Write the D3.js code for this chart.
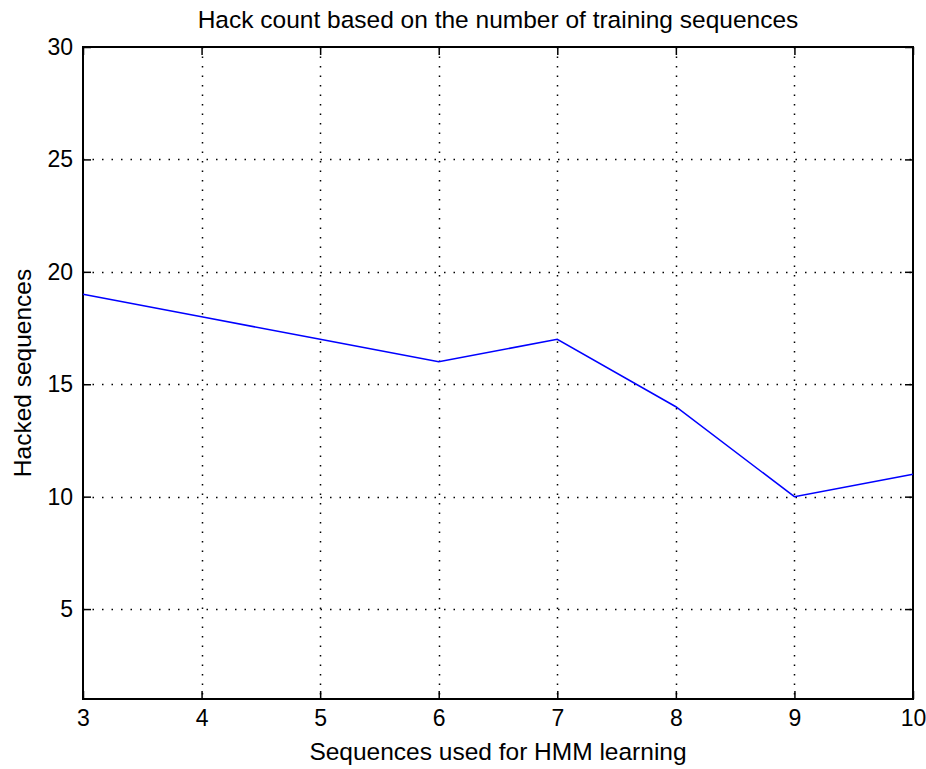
<!DOCTYPE html>
<html>
<head>
<meta charset="utf-8">
<script src="https://cdn.jsdelivr.net/npm/d3@7"></script>
<style>
  html, body { margin: 0; padding: 0; background: #fff; }
  svg { display: block; }
  text { font-family: "Liberation Sans", Arial, sans-serif; fill: #000; }
</style>
</head>
<body>
<svg id="chart" width="926" height="769"></svg>
<script>
const xValues = [3, 4, 5, 6, 7, 8, 9, 10];
const hackedValues = [19, 18, 17, 16, 17, 14, 10, 11];
const xTicks = [3, 4, 5, 6, 7, 8, 9, 10];
const yTicks = [5, 10, 15, 20, 25, 30];
const titleText = "Hack count based on the number of training sequences";
const xLabelText = "Sequences used for HMM learning";
const yLabelText = "Hacked sequences";

const W = 926, H = 769;
const margin = { left: 83, right: 13, top: 47, bottom: 70 };
const svg = d3.select("#chart");
const x = d3.scaleLinear().domain([3, 10]).range([margin.left, W - margin.right]);
const y = d3.scaleLinear().domain([1, 30]).range([H - margin.bottom, margin.top]);
const x0 = margin.left, x1 = W - margin.right, y0 = margin.top, y1 = H - margin.bottom;
const fs = 23;

// grid
const grid = svg.append("g");
grid.selectAll(".gx").data(xTicks.filter(d => d > 3 && d < 10)).enter().append("line")
  .attr("x1", d => Math.round(x(d)) + 0.5).attr("x2", d => Math.round(x(d)) + 0.5)
  .attr("y1", y0).attr("y2", y1)
  .attr("stroke", "#000").attr("stroke-width", 1.5).attr("stroke-dasharray", "1.5,8");
grid.selectAll(".gy").data(yTicks.filter(d => d < 30)).enter().append("line")
  .attr("y1", d => Math.round(y(d)) + 0.5).attr("y2", d => Math.round(y(d)) + 0.5)
  .attr("x1", x0).attr("x2", x1)
  .attr("stroke", "#000").attr("stroke-width", 1.5).attr("stroke-dasharray", "1.5,8");

// axes with inner ticks
const tk = 8;
const axB = svg.append("g").attr("transform", `translate(0,${y1})`)
  .call(d3.axisBottom(x).tickValues(xTicks).tickFormat(d3.format("d")).tickSizeInner(-tk).tickSizeOuter(0).tickPadding(11));
const axT = svg.append("g").attr("transform", `translate(0,${y0})`)
  .call(d3.axisTop(x).tickValues(xTicks).tickFormat("").tickSizeInner(-tk).tickSizeOuter(0));
const axL = svg.append("g").attr("transform", `translate(${x0},0)`)
  .call(d3.axisLeft(y).tickValues(yTicks).tickFormat(d3.format("d")).tickSizeInner(-tk).tickSizeOuter(0).tickPadding(10));
const axR = svg.append("g").attr("transform", `translate(${x1},0)`)
  .call(d3.axisRight(y).tickValues(yTicks).tickFormat("").tickSizeInner(-tk).tickSizeOuter(0));
[axB, axT, axL, axR].forEach(a => {
  a.selectAll(".domain").remove();
  a.selectAll(".tick line").attr("stroke", "#000").attr("stroke-width", 1.5);
  a.selectAll("text").style("font-size", fs + "px").attr("fill", "#000");
});

// box
svg.append("rect").attr("x", x0).attr("y", y0).attr("width", x1 - x0).attr("height", y1 - y0)
  .attr("fill", "none").attr("stroke", "#000").attr("stroke-width", 2);

// line
const line = d3.line().x((d, i) => x(xValues[i])).y(d => y(d));
svg.append("path").datum(hackedValues).attr("d", line)
  .attr("fill", "none").attr("stroke", "#0000ff").attr("stroke-width", 1.5);

// labels
svg.append("text").attr("x", (x0 + x1) / 2).attr("y", 28).attr("text-anchor", "middle")
  .style("font-size", "24.5px").text(titleText);
svg.append("text").attr("x", (x0 + x1) / 2).attr("y", 760).attr("text-anchor", "middle")
  .style("font-size", "24.5px").text(xLabelText);
svg.append("text").attr("transform", `translate(31,${(y0 + y1) / 2}) rotate(-90)`).attr("text-anchor", "middle")
  .style("font-size", "24.5px").text(yLabelText);
</script>
</body>
</html>
